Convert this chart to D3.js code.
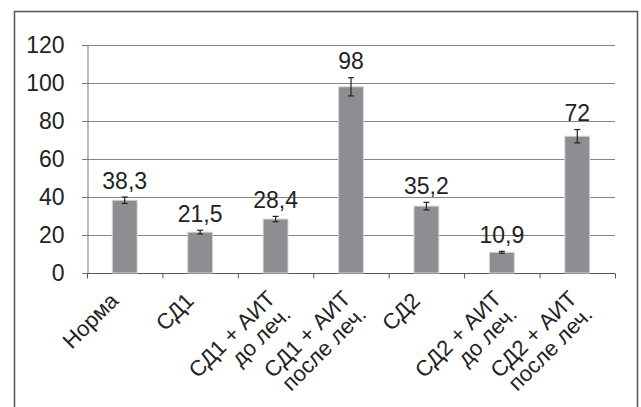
<!DOCTYPE html>
<html><head><meta charset="utf-8">
<script src="https://cdn.jsdelivr.net/npm/d3@7"></script>
<style>body{margin:0;background:#fff}svg{display:block}</style>
</head><body>
<svg id="c" width="641" height="407"></svg>
<script>
const categories = [["Норма"],["СД1"],["СД1 + АИТ","до леч."],["СД1 + АИТ","после леч."],["СД2"],["СД2 + АИТ","до леч."],["СД2 + АИТ","после леч."]];
const values = [38.3, 21.5, 28.4, 98, 35.2, 10.9, 72];
const valueLabels = ["38,3","21,5","28,4","98","35,2","10,9","72"];
const errors = [1.7, 1.0, 1.4, 4.8, 2.0, 0.5, 3.5];
const yTicks = [0,20,40,60,80,100,120];

const svg = d3.select("#c");
const font = "'Liberation Sans', Arial, sans-serif";
svg.append("rect").attr("x",14.5).attr("y",11.5).attr("width",623).attr("height",420)
  .attr("fill","#fff").attr("stroke","#555").attr("stroke-width",1.5);

const x0 = 87, x1 = 615, y0 = 273, y1 = 45;
const x = d3.scaleBand().domain(d3.range(values.length)).range([x0,x1]).paddingInner(0.67).paddingOuter(0.335);
const xb = d3.scaleLinear().domain([0, values.length]).range([x0,x1]);
const y = d3.scaleLinear().domain([0,120]).range([y0,y1]);

// gridlines
svg.append("g").selectAll("line").data(yTicks.filter(d=>d>0)).join("line")
  .attr("x1",x0-5).attr("x2",x1).attr("y1",d=>Math.round(y(d))+0.5).attr("y2",d=>Math.round(y(d))+0.5)
  .attr("stroke","#858585").attr("stroke-width",1);

// y axis
const ya = svg.append("g").attr("transform",`translate(${x0+0.5},0)`)
  .call(d3.axisLeft(y).tickValues(yTicks).tickSize(5).tickPadding(18));
ya.select(".domain").attr("stroke","#777");
ya.selectAll(".tick line").attr("stroke","#777");
ya.selectAll("text").attr("font-family",font).attr("font-size",23).attr("fill","#222");

// x axis baseline and ticks
const xa = svg.append("g").attr("transform",`translate(0,${Math.round(y0)+0.5})`)
  .call(d3.axisBottom(xb).tickValues(d3.range(values.length+1)).tickSize(5).tickFormat(""));
xa.select(".domain").attr("stroke","#555").attr("stroke-width",1.2).attr("d",`M${x0},0H${x1}`);
xa.selectAll(".tick line").attr("stroke","#555");

// bars
svg.append("g").selectAll("rect").data(values).join("rect")
  .attr("x",(d,i)=>x(i)).attr("width",x.bandwidth())
  .attr("y",d=>y(d)).attr("height",d=>y0-y(d))
  .attr("fill","#8d8e91").attr("stroke","#d6d6d8").attr("stroke-width",1);

// error bars
const eg = svg.append("g").attr("stroke","#222").attr("stroke-width",1.2);
values.forEach((v,i)=>{
  const cx = x(i)+x.bandwidth()/2;
  eg.append("line").attr("x1",cx).attr("x2",cx).attr("y1",y(v+errors[i])).attr("y2",y(v-errors[i]));
  eg.append("line").attr("x1",cx-3).attr("x2",cx+3).attr("y1",y(v+errors[i])).attr("y2",y(v+errors[i]));
  eg.append("line").attr("x1",cx-3).attr("x2",cx+3).attr("y1",y(v-errors[i])).attr("y2",y(v-errors[i]));
});

// value labels
svg.append("g").selectAll("text").data(values).join("text")
  .attr("x",(d,i)=>x(i)+x.bandwidth()/2).attr("y",(d,i)=>y(d+errors[i])-8.5)
  .attr("text-anchor","middle").attr("font-family",font).attr("font-size",23).attr("fill","#222")
  .text((d,i)=>valueLabels[i]);

// x labels rotated
const lg = svg.append("g");
categories.forEach((lines,i)=>{
  const cx = x(i)+x.bandwidth()/2;
  const ax = lines.length===1 ? cx-5 : cx+1;
  const ay = lines.length===1 ? 302 : 300;
  const t = lg.append("text").attr("transform",`translate(${ax},${ay}) rotate(-45)`)
    .attr("text-anchor","end").attr("font-family",font).attr("font-size",22).attr("fill","#222");
  lines.forEach((s,k)=>t.append("tspan").attr("x",0).attr("dy",k===0?0:"1.0em").text(s));
});
</script>
</body></html>
